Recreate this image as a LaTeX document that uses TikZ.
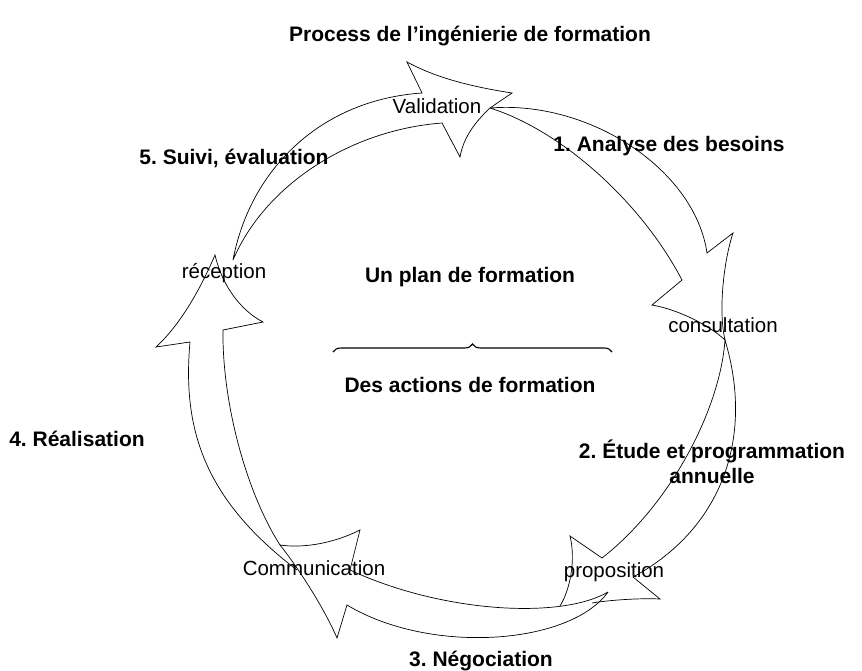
\documentclass[tikz,border=0pt]{standalone}
\usepackage{fontspec}
\setmainfont{Liberation Sans}
\usetikzlibrary{decorations.pathreplacing}
\frenchspacing

\begin{document}
\begin{tikzpicture}[x=1pt,y=-1pt,
    flow/.style={draw, line width=0.7pt, line join=miter},
    stage/.style={font=\fontsize{21}{25}\selectfont\bfseries, inner sep=0pt, anchor=base},
    point/.style={font=\fontsize{20.5}{24}\selectfont, inner sep=0pt, anchor=base}]
  \useasboundingbox (0,0) rectangle (862,671);

  \node[stage] (title) at (470,42) {Process de l’ingénierie de formation};
  \node[stage] (analyse) at (669,152) {1. Analyse des besoins};
  \node[stage, align=center] (etude) at (712,483) {2. Étude et programmation\\annuelle};
  \node[stage] (nego) at (481,666) {3. Négociation};
  \node[stage] (real) at (77,446) {4. Réalisation};
  \node[stage] (suivi) at (234,165) {5. Suivi, évaluation};
  \node[stage] (plan) at (470,282) {Un plan de formation};
  \node[stage] (actions) at (470,392) {Des actions de formation};

  \node[point] (valid) at (437,114) {Validation};
  \node[point] (consult) at (723,332) {consultation};
  \node[point] (propos) at (614,577) {proposition};
  \node[point] (comm) at (314,575) {Communication};
  \node[point] (recep) at (224,278) {réception};

  % junctions of the cycle
  \coordinate (jr) at (233,260);
  \coordinate (jv) at (490,108);
  \coordinate (jc) at (725,340);
  \coordinate (jp) at (608,592);
  \coordinate (jm) at (280,545);

  % reception -> validation
  \draw[flow] (jr) .. controls (250,170) and (320,100) .. (422,93) -- (407,62)
    .. controls (440,80) and (480,88) .. (512,93) -- (jv)
    .. controls (472,125) and (463,140) .. (460,157) -- (442,123)
    .. controls (350,130) and (265,185) .. (jr);
  % validation -> consultation
  \draw[flow] (jv) .. controls (590,100) and (695,170) .. (707,253) -- (733,233)
    .. controls (724,260) and (718,310) .. (jc)
    .. controls (710,326) and (680,310) .. (652,305) -- (682,280)
    .. controls (640,200) and (560,130) .. (jv);
  % consultation -> proposition
  \draw[flow] (560,606) .. controls (570,590) and (576,560) .. (570,536) -- (602,558)
    .. controls (670,505) and (720,410) .. (jc)
    .. controls (755,440) and (720,530) .. (633,577) -- (660,599)
    .. controls (640,598) and (610,600) .. (592,603);
  % proposition -> communication
  \draw[flow] (jp) .. controls (560,620) and (440,612) .. (350,570) -- (360,530)
    .. controls (330,545) and (300,548) .. (jm)
    .. controls (300,570) and (325,610) .. (337,638) -- (347,605)
    .. controls (430,655) and (570,645) .. (jp);
  % communication -> reception
  \draw[flow] (297,570) .. controls (205,500) and (182,430) .. (190,342) -- (156,347)
    .. controls (180,325) and (200,290) .. (215,255)
    .. controls (222,285) and (240,310) .. (263,322) -- (223,330)
    .. controls (222,400) and (245,490) .. (jm);

  \draw[line width=1.1pt, decorate, decoration={brace, amplitude=8pt}]
    (333,352) -- (612,352);
\end{tikzpicture}
\end{document}
